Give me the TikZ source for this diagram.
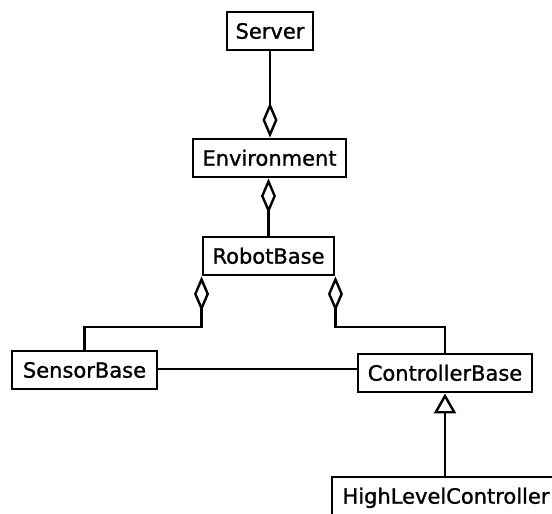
\documentclass[tikz,border=0pt]{standalone}
\usepackage{fontspec}
\setmainfont{DejaVu Sans}
\newfontfamily\clsfont[FakeBold=1.2]{DejaVu Sans}
\usetikzlibrary{arrows.meta}
\begin{document}
\begin{tikzpicture}[x=1pt,y=-1pt,
  cls/.style={draw, line width=2.9pt, inner sep=0pt, minimum height=38pt,
    text height=15.3pt, text depth=0pt, font=\clsfont\fontsize{21}{25}\selectfont},
  link/.style={line width=2.7pt},
  agg/.style={link, -{Diamond[open, length=35pt, width=15pt, line width=2.4pt]}},
  inh/.style={link, -{Triangle[open, length=20pt, width=22pt, line width=2.4pt]}}]
\useasboundingbox (0,0) rectangle (552,514);
\clip (0,0) rectangle (552,514);

% classes
\node[cls, minimum width=86pt]  (server) at (270,31)    {Server};
\node[cls, minimum width=153pt] (env)    at (269.5,158) {Environment};
\node[cls, minimum width=131pt] (robot)  at (268.5,256) {RobotBase};
\node[cls, minimum width=145pt] (sensor) at (84.5,370)  {SensorBase};
\node[cls, minimum width=174pt] (ctrl)   at (445,373)   {ControllerBase};
\node[cls, minimum width=228pt] (hlc)    at (446,496)   {HighLevelController};

\coordinate (lvl) at (0,327);

% aggregations
\draw[agg] (server.south) -- (server.south |- env.north);
\draw[agg] (robot.north) -- (robot.north |- env.south);
\draw[agg] (sensor.north) |- (robot.south west |- lvl) -- (robot.south west);
\draw[agg] (ctrl.north) |- (robot.south east |- lvl) -- (robot.south east);

% association
\draw[link] (sensor.east |- 0,369) -- (ctrl.west |- 0,369);

% generalisation
\draw[inh] (hlc.north -| ctrl.south) -- (ctrl.south);
\end{tikzpicture}
\end{document}
